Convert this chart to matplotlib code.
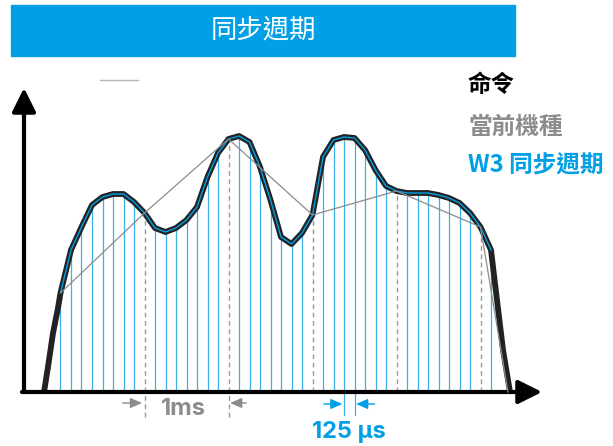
import numpy as np
import matplotlib
matplotlib.use('Agg')
import matplotlib.pyplot as plt
from matplotlib.patches import Rectangle
from matplotlib.lines import Line2D

plt.rcParams['font.family'] = ['Noto Sans CJK TC', 'DejaVu Sans']

# W3 sync samples, one every 125 us (t in ms)
step = 0.125
sample_vals = [99, 142, 165, 187, 195, 198, 198, 190, 179, 164, 160, 164, 172, 185,
               215, 239, 253, 256, 250, 225, 192, 155, 148, 159, 177, 235, 252, 255,
               254, 242, 222, 206, 201, 199, 199, 199, 197, 194, 189, 179, 165, 142]
sample_t = [k * step for k in range(len(sample_vals))]

# command curve ends (rise from / fall to zero)
cmd_start_t = [-0.196, -0.149, -0.089, -0.030]
cmd_start_v = [0, 25, 59, 84]
cmd_end_t = [5.196, 5.268, 5.351]
cmd_end_v = [92, 42, 0]

# current model: one sample every 1 ms
old_every = 8
old_end_t = 5.327

title = '同步週期'
legend_labels = ['命令', '當前機種', 'W3 同步週期']

BLUE = '#009FE6'
LBLUE = '#3AB0EA'
GRAY = '#8C8C8C'
BLACK = '#222222'

fig = plt.figure(figsize=(6.13, 4.46), dpi=100)
W, H = 613, 446

# title bar
fig.patches.append(Rectangle((11 / W, 1 - 56 / H), 504 / W, 51 / H,
                             transform=fig.transFigure, color=BLUE, zorder=0))
fig.text(263 / W, 1 - 30 / H, title, color='white', fontsize=19,
         ha='center', va='center')

# stray short gray line top-left
fig.lines.append(Line2D([100 / W, 138 / W], [1 - 80 / H, 1 - 80 / H],
                        transform=fig.transFigure, color='#b5b5b5', lw=1))

ax = fig.add_axes([24 / W, 1 - 392 / H, (542 - 24) / W, (392 - 88) / H])
ax.set_xlim(-0.4345, 5.732)
ax.set_ylim(0, 304)
ax.axis('off')

# vertical sample lines
for k, (t, v) in enumerate(zip(sample_t, sample_vals)):
    if k % old_every == 0 and k > 0:
        lo = -25 if k in (8, 16) else 0
        ax.plot([t, t], [lo, v], color='#9a9a9a', lw=1.0, ls=(0, (3.5, 2.5)),
                clip_on=False, zorder=2)
    else:
        lo = -23 if k in (27, 28) else 0
        ax.plot([t, t], [lo, v], color=LBLUE, lw=0.9, clip_on=False, zorder=2)

# command curve
cmd_t = cmd_start_t + sample_t + cmd_end_t
cmd_v = cmd_start_v + sample_vals + cmd_end_v
ax.plot(cmd_t, cmd_v, color=BLACK, lw=4.2, solid_joinstyle='round',
        solid_capstyle='butt', clip_on=False, zorder=3)

# W3 polyline
ax.plot(sample_t, sample_vals, color=BLUE, lw=1.0, zorder=4, clip_on=False)

# current model polyline
old_t = sample_t[::old_every] + [old_end_t]
old_v = sample_vals[::old_every] + [0]
ax.plot(old_t, old_v, color=GRAY, lw=0.9, zorder=5, clip_on=False)

# axes arrows
ax.annotate('', xy=(0, 1), xytext=(0, 0), xycoords='axes fraction',
            arrowprops=dict(arrowstyle='-|>,head_length=0.9,head_width=0.45',
                            color='black', lw=3, shrinkA=0, shrinkB=0,
                            mutation_scale=16))
ax.annotate('', xy=(1, 0), xytext=(-0.004, 0), xycoords='axes fraction',
            arrowprops=dict(arrowstyle='-|>,head_length=0.9,head_width=0.45',
                            color='black', lw=3, shrinkA=0, shrinkB=0,
                            mutation_scale=16))

# 1 ms annotation
t8, t16 = sample_t[8], sample_t[16]
ap_g = dict(arrowstyle='-|>,head_length=0.5,head_width=0.22', color=GRAY,
            lw=1, shrinkA=0, shrinkB=0, mutation_scale=14)
ax.annotate('', xy=(t8 - 0.03, -11), xytext=(t8 - 0.26, -11), arrowprops=ap_g,
            annotation_clip=False)
ax.annotate('', xy=(t16 + 0.02, -11), xytext=(t16 + 0.21, -11), arrowprops=ap_g,
            annotation_clip=False)
ax.text((t8 + t16) / 2 - 0.04, -17, '1ms', color=GRAY, fontsize=17,
        fontweight='bold', family=['Inter', 'DejaVu Sans'],
        ha='center', va='center', clip_on=False)

# 125 us annotation
t27, t28 = sample_t[27], sample_t[28]
ap_b = dict(arrowstyle='-|>,head_length=0.5,head_width=0.22', color=BLUE,
            lw=1, shrinkA=0, shrinkB=0, mutation_scale=14)
ax.annotate('', xy=(t27 - 0.02, -12), xytext=(t27 - 0.24, -12), arrowprops=ap_b,
            annotation_clip=False)
ax.annotate('', xy=(t28 + 0.02, -12), xytext=(t28 + 0.24, -12), arrowprops=ap_b,
            annotation_clip=False)
ax.text((t27 + t28) / 2, -40, '125 µs', color=BLUE, fontsize=17,
        fontweight='bold', family=['Inter', 'DejaVu Sans'],
        ha='center', va='center', clip_on=False)

# legend text
for label, col, ypx in zip(legend_labels, ['black', GRAY, BLUE], [85, 127, 165]):
    fig.text(468 / W, 1 - ypx / H, label, color=col, fontsize=17,
             fontweight='bold', ha='left', va='center')

fig.savefig('out.png', dpi=100)
